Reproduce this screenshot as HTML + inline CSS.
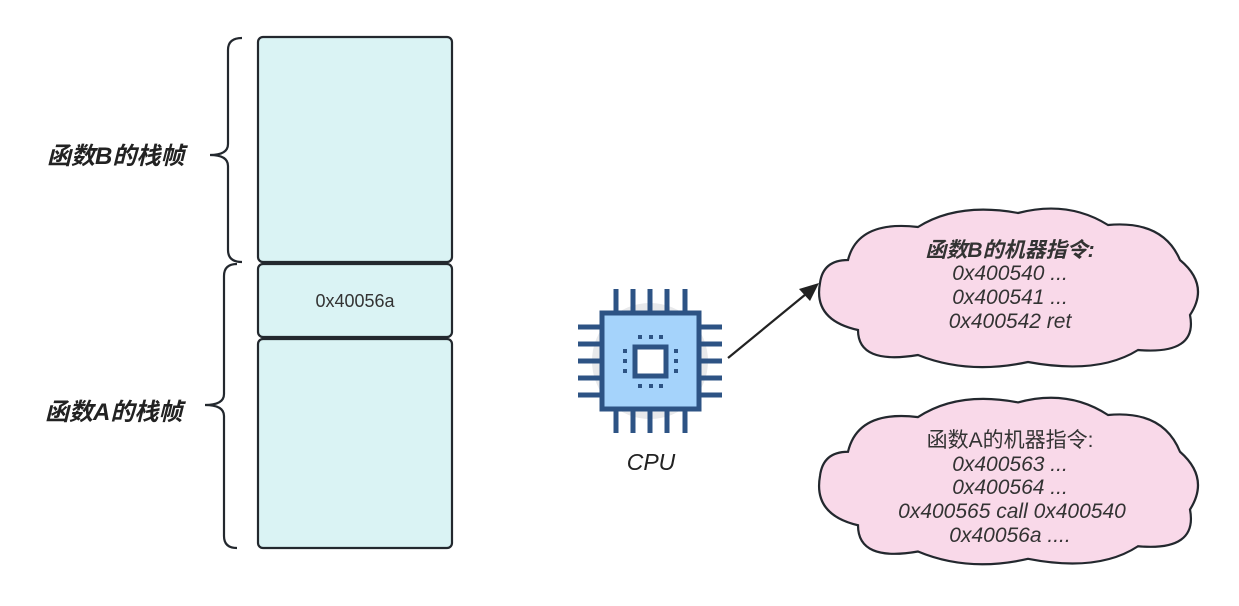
<!DOCTYPE html>
<html><head><meta charset="utf-8"><style>
html,body{margin:0;padding:0;background:#fff;}
body{width:1239px;height:601px;overflow:hidden;}
</style></head><body>
<svg width="1239" height="601" viewBox="0 0 1239 601" xmlns="http://www.w3.org/2000/svg" font-family="Liberation Sans, Noto Sans CJK SC, sans-serif">
<g fill="#daf3f4" stroke="#23282e" stroke-width="2.2">
<rect x="258" y="37" width="194" height="225" rx="5"/>
<rect x="258" y="264" width="194" height="73" rx="5"/>
<rect x="258" y="339" width="194" height="209" rx="5"/>
</g>
<text x="355" y="307" font-size="18" fill="#333" text-anchor="middle">0x40056a</text>
<g fill="none" stroke="#23282e" stroke-width="2.2">
<path d="M242 38 Q228 38 228 50 L228 144 Q228 155 210 155 Q228 155 228 166 L228 250 Q228 262 242 262"/>
<path d="M237 264 Q224 264 224 276 L224 394 Q224 405 205 405 Q224 405 224 416 L224 536 Q224 548 237 548"/>
</g>
<g font-size="24" font-style="italic" fill="#222" font-weight="bold">
<text x="47" y="164">函数B的栈帧</text>
<text x="45" y="420">函数A的栈帧</text>
</g>
<circle cx="650" cy="361" r="58" fill="#e8e9eb"/>
<g stroke="#2d5384" stroke-width="5" fill="none">
<path d="M616 289V312M633 289V312M650 289V312M667 289V312M685 289V312"/>
<path d="M616 410V433M633 410V433M650 410V433M667 410V433M685 410V433"/>
<path d="M578 327H601M578 344H601M578 361H601M578 378H601M578 395H601"/>
<path d="M701 327H722M701 344H722M701 361H722M701 378H722M701 395H722"/>
</g>
<rect x="602" y="313" width="97" height="96" fill="#a5d3fb" stroke="#2d5384" stroke-width="5"/>
<rect x="635" y="347" width="31" height="29" fill="#fff" stroke="#2d5384" stroke-width="5"/>
<g fill="#2d5384">
<rect x="638" y="335" width="4" height="4"/><rect x="649" y="335" width="4" height="4"/><rect x="659" y="335" width="4" height="4"/>
<rect x="638" y="384" width="4" height="4"/><rect x="649" y="384" width="4" height="4"/><rect x="659" y="384" width="4" height="4"/>
<rect x="623" y="349" width="4" height="4"/><rect x="623" y="359" width="4" height="4"/><rect x="623" y="369" width="4" height="4"/>
<rect x="674" y="349" width="4" height="4"/><rect x="674" y="359" width="4" height="4"/><rect x="674" y="369" width="4" height="4"/>
</g>
<text x="651" y="470" font-size="23" font-style="italic" fill="#222" text-anchor="middle">CPU</text>
<line x1="728" y1="358" x2="806" y2="294" stroke="#222" stroke-width="2.2"/>
<polygon points="819,283 799,289 810,301" fill="#222"/>
<g fill="#f9d9e9" stroke="#23282e" stroke-width="2.2">
<path vector-effect="non-scaling-stroke" transform="translate(818,205)" d="M30 55 Q40 15 100 22 Q140 -3 200 8 Q250 -5 290 20 Q345 15 362 55 Q392 80 372 110 Q380 150 320 145 Q280 170 210 157 Q150 170 100 150 Q40 160 40 125 Q-5 115 2 78 Q5 55 30 55 Z"/>
<path vector-effect="non-scaling-stroke" transform="translate(818,394) scale(1,1.05)" d="M30 55 Q40 15 100 22 Q140 -3 200 8 Q250 -5 290 20 Q345 15 362 55 Q392 80 372 110 Q380 150 320 145 Q280 170 210 157 Q150 170 100 150 Q40 160 40 125 Q-5 115 2 78 Q5 55 30 55 Z"/>
</g>
<g font-size="21" fill="#333" text-anchor="middle" font-style="italic">
<text x="1010" y="257" font-weight="bold">函数B的机器指令:</text>
<text x="1010" y="280">0x400540 ...</text>
<text x="1010" y="304">0x400541 ...</text>
<text x="1010" y="328">0x400542 ret</text>
<text x="1010" y="447" font-style="normal">函数A的机器指令:</text>
<text x="1010" y="471">0x400563 ...</text>
<text x="1010" y="494">0x400564 ...</text>
<text x="1012" y="518">0x400565 call 0x400540</text>
<text x="1010" y="542">0x40056a ....</text>
</g>
</svg>
</body></html>
